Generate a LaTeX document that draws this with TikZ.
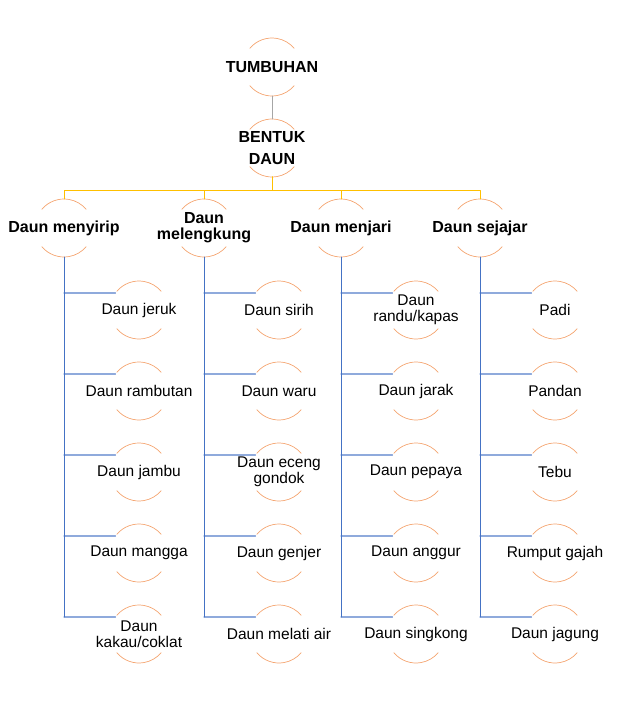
\documentclass[tikz,border=0pt]{standalone}
\usepackage{fontspec}
\setmainfont{Liberation Sans}
\usetikzlibrary{calc}
\definecolor{arcorange}{HTML}{F4A470}
\definecolor{busyellow}{HTML}{FFC000}
\definecolor{vblue}{HTML}{4472C4}
\definecolor{hblue}{HTML}{8FAADC}
\tikzset{
  blob/.style={inner sep=0pt,align=center,font=\fontsize{15.5}{16}\selectfont},
  head/.style={blob,font=\fontsize{16}{22}\selectfont\bfseries},
  bus/.style={busyellow,line width=0.8pt},
  vline/.style={vblue,line width=0.8pt},
  hline/.style={hblue,line width=1.2pt},
  arcline/.style={arcorange,line width=0.7pt}
}
% arcs above and below a node, with points to hook lines on
\newcommand{\blobarcs}[1]{%
  \draw[arcline] (#1.center) ++(-140:29) arc (-140:-40:29);
  \draw[arcline] (#1.center) ++(140:29) arc (140:40:29);
  \coordinate (#1-top) at ($(#1.center)+(0,-29)$);
  \coordinate (#1-bot) at ($(#1.center)+(0,29)$);
  \coordinate (#1-left) at ($(#1.center)+(-23.5,-17)$);}
\begin{document}
\begin{tikzpicture}[x=1pt,y=-1pt,line cap=round,line join=round]
  \useasboundingbox (0,0) rectangle (616,703);
  % top of the tree
  \node[head] (tumbuhan) at (272,67) {TUMBUHAN};
  \node[head] (bentuk) at (272,148) {BENTUK\\DAUN};
  % leaf kinds
  \node[head] (menyirip) at (64,228) {Daun menyirip};
  \node[head] (melengkung) at (204,228) {Daun\\[-6pt]melengkung};
  \node[head] (menjari) at (341,228) {Daun menjari};
  \node[head] (sejajar) at (480,228) {Daun sejajar};
  \foreach \n in {tumbuhan,bentuk,menyirip,melengkung,menjari,sejajar}
    {\blobarcs{\n}}
  \draw[gray!70,line width=0.8pt] (tumbuhan-bot) -- (bentuk-top);
  \foreach \k in {menyirip,melengkung,menjari,sejajar}
    \draw[bus] (bentuk-bot) -- ++(0,13) -| (\k-top);
  % examples
  \foreach \col/\x/\names in {
      menyirip/139/{Daun jeruk,Daun rambutan,Daun jambu,Daun mangga,Daun\\kakau/coklat},
      melengkung/279/{Daun sirih,Daun waru,Daun eceng\\gondok,Daun genjer,Daun melati air},
      menjari/416/{Daun\\randu/kapas,Daun jarak,Daun pepaya,Daun anggur,Daun singkong},
      sejajar/555/{Padi,Pandan,Tebu,Rumput gajah,Daun jagung}}{
    \foreach \txt [count=\i] in \names {
      \node[blob,font=\fontsize{15.5}{15.5}\selectfont] (\col-\i) at (\x,229+81*\i) {\txt};
      \blobarcs{\col-\i}
      \draw[hline] (\col-bot |- \col-\i-left) -- (\col-\i-left);
    }
    \draw[vline] (\col-bot) -- (\col-bot |- \col-5-left);
  }
\end{tikzpicture}
\end{document}
